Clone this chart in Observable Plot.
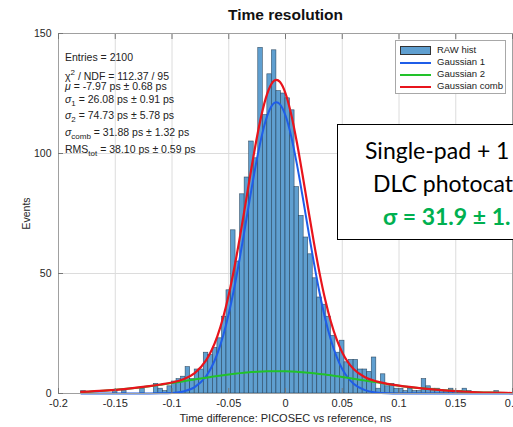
<!DOCTYPE html>
<html>
<head>
<meta charset="utf-8">
<script src="https://cdn.jsdelivr.net/npm/d3@7"></script>
<script src="https://cdn.jsdelivr.net/npm/@observablehq/plot@0.6"></script>
<style>
  html, body { margin: 0; padding: 0; background: #fff; overflow: hidden; }
  #wrap { position: relative; width: 513px; height: 427px; overflow: hidden; font-family: "Liberation Sans", Arial, sans-serif; color: #262626; }
  #title { position: absolute; left: 0; top: 0; width: 571px; height: 26px; text-align: center; font-weight: bold; font-size: 15.5px; line-height: 30px; color: #111; }
  #chart { position: absolute; left: 0; top: 26px; }
  .stat { position: absolute; left: 65px; font-size: 10.5px; line-height: 12px; white-space: nowrap; color: #222; }
  .stat sub, .stat sup { font-size: 8px; }
  #legend { position: absolute; left: 395px; top: 40px; width: 111px; height: 54px; background: #fff; border: 1px solid #a8a8a8; box-sizing: border-box; font-size: 9.5px; color: #222; }
  .lg { position: absolute; left: 4px; height: 12px; width: 104px; }
  .lg .sw { position: absolute; left: 0; width: 31px; }
  .lg span { position: absolute; left: 37px; top: -1px; white-space: nowrap; }
  #note { position: absolute; left: 337px; top: 124px; width: 260px; height: 116px; background: #fff; border: 1.3px solid #000; box-sizing: border-box; font-family: Lato, "Open Sans", sans-serif; font-size: 23px; color: #000; }
  #note div { position: absolute; white-space: nowrap; }
</style>
</head>
<body>
<div id="wrap">
  <div id="title">Time resolution</div>
  <div id="chart"></div>
  <div class="stat" style="top:51px">Entries = 2100</div>
  <div class="stat" style="top:67px">&chi;<sup>2</sup> / NDF = 112.37 / 95</div>
  <div class="stat" style="top:80px"><i>&mu;</i> = -7.97 ps &plusmn; 0.68 ps</div>
  <div class="stat" style="top:93px"><i>&sigma;</i><sub>1</sub> = 26.08 ps &plusmn; 0.91 ps</div>
  <div class="stat" style="top:109px"><i>&sigma;</i><sub>2</sub> = 74.73 ps &plusmn; 5.78 ps</div>
  <div class="stat" style="top:126px"><i>&sigma;</i><sub>comb</sub> = 31.88 ps &plusmn; 1.32 ps</div>
  <div class="stat" style="top:143px">RMS<sub>tot</sub> = 38.10 ps &plusmn; 0.59 ps</div>
  <div id="legend">
    <div class="lg" style="top:4px"><div class="sw" style="top:1px;height:9px;background:#5f9fd0;border:1px solid #333;box-sizing:border-box"></div><span>RAW hist</span></div>
    <div class="lg" style="top:16px"><div class="sw" style="top:5px;height:2px;background:#1f5de8"></div><span>Gaussian 1</span></div>
    <div class="lg" style="top:28px"><div class="sw" style="top:5px;height:2px;background:#22c22a"></div><span>Gaussian 2</span></div>
    <div class="lg" style="top:40px"><div class="sw" style="top:5px;height:2px;background:#e8141c"></div><span>Gaussian comb</span></div>
  </div>
  <div id="note">
    <div style="left:27px;top:11px">Single-pad + 1</div>
    <div style="left:35px;top:44px">DLC photocat</div>
    <div style="left:45px;top:77px;color:#00b050;font-weight:bold">&sigma; = 31.9 &plusmn; 1.</div>
  </div>
</div>
<script>
// ---- data ----
const binStart = -0.2;
const binWidth = 0.004;
const counts = [
  0,0,0,0,0, 1,0,0,0,0,
  0,0,1,0,1, 0,0,0,2,0,
  0,4,2,1,3, 5,6,7,11,6,
  10,10,17,16,19, 23,32,43,68,55,
  83,90,105,98,144, 116,133,143,126,125,
  123,118,86,74,65, 58,48,40,37,32,
  24,17,22,13,14, 14,10,10,9,15,
  2,8,3,4,2, 2,1,2,1,1,
  6,3,2,2,1, 1,2,1,1,2,
  1,0,0,0,0, 0,1,0,0,0
];
const curveT    = [-0.18,-0.16,-0.14,-0.12,-0.11,-0.10,-0.09,-0.08,-0.07,-0.065,-0.06,-0.055,-0.05,-0.045,-0.04,-0.035,-0.03,-0.025,-0.02,-0.015,-0.01,-0.008,-0.005,0,0.005,0.01,0.015,0.02,0.025,0.03,0.035,0.04,0.045,0.05,0.055,0.06,0.07,0.08,0.09,0.10,0.12,0.14,0.16,0.18,0.20];
const gauss1    = [0,0,0,0.01,0.06,0.24,0.87,2.69,7.20,11.14,16.63,23.93,33.19,44.37,57.19,71.04,85.05,98.16,109.21,117.10,121.04,121.4,120.60,115.82,107.22,95.67,82.29,68.22,54.52,42.00,31.18,22.32,15.40,10.24,6.56,4.06,1.39,0.41,0.10,0.02,0,0,0,0,0];
const gauss2    = [0.66,1.18,1.95,3.03,3.68,4.36,5.09,5.85,6.59,6.95,7.30,7.63,7.94,8.23,8.49,8.71,8.91,9.06,9.18,9.26,9.30,9.30,9.29,9.25,9.16,9.03,8.87,8.67,8.44,8.17,7.88,7.57,7.23,6.88,6.52,6.15,5.39,4.65,3.94,3.27,2.15,1.31,0.74,0.39,0.19];
const gaussComb = [0.66,1.18,1.95,3.04,3.74,4.60,5.96,8.53,13.79,18.10,23.93,31.56,41.13,52.60,65.68,79.75,93.96,107.22,118.39,126.36,130.34,130.7,129.89,125.07,116.38,104.71,91.16,76.89,62.95,50.17,39.06,29.89,22.63,17.12,13.08,10.20,6.78,5.06,4.04,3.30,2.15,1.31,0.74,0.39,0.19];
const xTicks = [-0.2,-0.15,-0.1,-0.05,0,0.05,0.1,0.15,0.2];
const xTickLabels = ["-0.2","-0.15","-0.1","-0.05","0","0.05","0.1","0.15","0.2"];
const yTicks = [0,50,100,150];

// ---- tables built from the arrays ----
const bins = counts.map((c, k) => ({x1: binStart + k * binWidth, x2: binStart + (k + 1) * binWidth, count: c})).filter(d => d.count > 0);
const curves = curveT.map((t, i) => ({t, g1: gauss1[i], g2: gauss2[i], gc: gaussComb[i]}));
const xLabel = new Map(xTicks.map((v, i) => [v, xTickLabels[i]]));

const plot = Plot.plot({
  width: 513,
  height: 401,
  marginTop: 7,
  marginBottom: 34,
  marginLeft: 58,
  marginRight: 1,
  style: {fontFamily: "Liberation Sans, Arial, sans-serif", fontSize: "11px", color: "#262626", background: "transparent"},
  x: {domain: [-0.2, 0.2]},
  y: {domain: [0, 150]},
  marks: [
    Plot.gridX(xTicks, {stroke: "#dcdcdc", strokeOpacity: 1}),
    Plot.gridY(yTicks, {stroke: "#dcdcdc", strokeOpacity: 1}),
    Plot.rectY(bins, {x1: "x1", x2: "x2", y: "count", fill: "#5f9fd0", stroke: "#1e3850", strokeWidth: 0.6, strokeOpacity: 0.85}),
    Plot.line(curves, {x: "t", y: "g1", stroke: "#1f5de8", strokeWidth: 2, curve: "monotone-x"}),
    Plot.line(curves, {x: "t", y: "g2", stroke: "#22c22a", strokeWidth: 2, curve: "monotone-x"}),
    Plot.line(curves, {x: "t", y: "gc", stroke: "#e8141c", strokeWidth: 2.2, curve: "monotone-x"}),
    Plot.frame({stroke: "#a0a0a0"}),
    Plot.axisX(xTicks, {anchor: "bottom", tickSize: -5, tickFormat: () => "", label: null, stroke: "#777"}),
    Plot.axisX(xTicks, {anchor: "top", tickSize: -5, tickFormat: () => "", label: null, stroke: "#777"}),
    Plot.axisX(xTicks, {anchor: "bottom", tickSize: 0, tickPadding: 6, tickFormat: d => xLabel.get(d), fontSize: 11, label: "Time difference: PICOSEC vs reference, ns", labelAnchor: "center", labelOffset: 28, labelArrow: "none"}),
    Plot.axisY(yTicks, {anchor: "left", tickSize: -5, tickFormat: () => "", label: null, stroke: "#777"}),
    Plot.axisY(yTicks, {anchor: "left", tickSize: 0, tickPadding: 7, fontSize: 10.5, label: "Events", labelAnchor: "center", labelOffset: 36, labelArrow: "none"})
  ]
});
document.getElementById("chart").appendChild(plot);
</script>
</body>
</html>
